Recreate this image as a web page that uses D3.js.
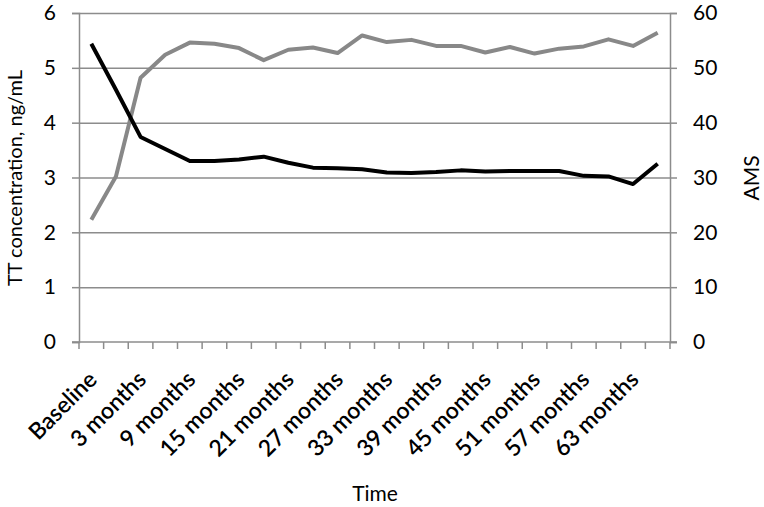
<!DOCTYPE html>
<html>
<head>
<meta charset="utf-8">
<script src="https://cdn.jsdelivr.net/npm/d3@7"></script>
<style>
  body { margin: 0; background: #fff; }
  text { font-family: Lato, "Open Sans", sans-serif; fill: #000; }
  .grid line { stroke: #8c8c8c; stroke-width: 1.5; }
  .axis path, .axis line { stroke: #8c8c8c; stroke-width: 1.5; }
</style>
</head>
<body>
<div id="chart"></div>
<script>
// categories: baseline, then every 3 months (index 1 label is hidden in the original)
const timepoints = ["Baseline", "1 month", "3 months", "6 months", "9 months", "12 months", "15 months",
  "18 months", "21 months", "24 months", "27 months", "30 months", "33 months", "36 months",
  "39 months", "42 months", "45 months", "48 months", "51 months", "54 months", "57 months",
  "60 months", "63 months", "66 months"]
// TT concentration, ng/mL (left axis)
const ttValues = [5.44, 4.6, 3.74, 3.52, 3.3, 3.3, 3.33, 3.38, 3.27, 3.18, 3.17, 3.15, 3.09,
  3.08, 3.1, 3.13, 3.11, 3.12, 3.12, 3.12, 3.03, 3.02, 2.88, 3.25]
// AMS score (right axis)
const amsValues = [22.3, 30.2, 48.2, 52.4, 54.6, 54.4, 53.6, 51.4, 53.3, 53.7, 52.7, 55.9, 54.7,
  55.1, 54.0, 54.0, 52.8, 53.8, 52.6, 53.5, 53.9, 55.2, 54.0, 56.4]
const leftTicks = [0, 1, 2, 3, 4, 5, 6]
const rightTicks = [0, 10, 20, 30, 40, 50, 60]

const width = 764, height = 507
const margin = { left: 79, right: 94, top: 13, bottom: 165 }
const fontSize = '21px'

const svg = d3.select('#chart').append('svg')
  .attr('width', width)
  .attr('height', height)

// x is a band scale so ticks sit between categories, like Excel
const xScale = d3.scaleBand()
  .domain(timepoints)
  .range([margin.left, width - margin.right])
const yLeft = d3.scaleLinear().domain([0, 6]).range([height - margin.bottom, margin.top])
const yRight = d3.scaleLinear().domain([0, 60]).range([height - margin.bottom, margin.top])
const cx = d => xScale(d) + xScale.bandwidth() / 2

// gridlines
svg.append('g')
  .attr('class', 'grid')
  .attr('transform', `translate(${margin.left},0)`)
  .call(d3.axisLeft(yLeft).tickValues(leftTicks.slice(1)).tickSize(-(width - margin.left - margin.right)).tickFormat(''))
  .call(g => g.select('.domain').remove())

// left axis
svg.append('g')
  .attr('class', 'axis')
  .attr('transform', `translate(${margin.left},0)`)
  .call(d3.axisLeft(yLeft).tickValues(leftTicks).tickFormat(d3.format('d')).tickSizeOuter(0).tickSize(7).tickPadding(16))
  .call(g => g.selectAll('text').style('font-size', fontSize))

// right axis
svg.append('g')
  .attr('class', 'axis')
  .attr('transform', `translate(${width - margin.right},0)`)
  .call(d3.axisRight(yRight).tickValues(rightTicks).tickFormat(d3.format('d')).tickSizeOuter(0).tickSize(7).tickPadding(16))
  .call(g => g.selectAll('text').style('font-size', fontSize))

// bottom axis, ticks at band edges
const xAxis = svg.append('g')
  .attr('class', 'axis')
  .attr('transform', `translate(0,${height - margin.bottom})`)
xAxis.append('line')
  .attr('x1', margin.left - 7).attr('x2', width - margin.right + 7)
  .attr('stroke', '#8c8c8c').attr('stroke-width', 1.5)
xAxis.selectAll('.tk')
  .data(timepoints.concat(['end']))
  .enter()
  .append('line')
  .attr('class', 'tk')
  .attr('x1', (d, i) => margin.left + i * xScale.bandwidth())
  .attr('x2', (d, i) => margin.left + i * xScale.bandwidth())
  .attr('y1', 0).attr('y2', 7)
  .attr('stroke', '#8c8c8c').attr('stroke-width', 1.5)
xAxis.selectAll('.lbl')
  .data(timepoints.filter((d, i) => i % 2 == 0))
  .enter()
  .append('text')
  .attr('class', 'lbl')
  .attr('text-anchor', 'end')
  .attr('transform', d => `translate(${cx(d) + 7},${39}) rotate(-45)`)
  .style('font-size', '23px')
  .style('font-weight', 600)
  .text(d => d)

// lines
const line = (yScale) => d3.line().x((d, i) => cx(timepoints[i])).y(d => yScale(d))

svg.append('path')
  .datum(amsValues)
  .attr('fill', 'none')
  .attr('stroke', '#888888')
  .attr('stroke-width', 4)
  .attr('stroke-linejoin', 'round')
  .attr('d', line(yRight))

svg.append('path')
  .datum(ttValues)
  .attr('fill', 'none')
  .attr('stroke', '#000')
  .attr('stroke-width', 4)
  .attr('stroke-linejoin', 'round')
  .attr('d', line(yLeft))

// axis titles
svg.append('text')
  .attr('text-anchor', 'middle')
  .attr('transform', `translate(22,178) rotate(-90)`)
  .style('font-size', '20px')
  .text('TT concentration, ng/mL')

svg.append('text')
  .attr('text-anchor', 'middle')
  .attr('transform', `translate(759,178) rotate(-90)`)
  .style('font-size', fontSize)
  .text('AMS')

svg.append('text')
  .attr('text-anchor', 'middle')
  .attr('x', 375)
  .attr('y', 501)
  .style('font-size', fontSize)
  .text('Time')
</script>
</body>
</html>
